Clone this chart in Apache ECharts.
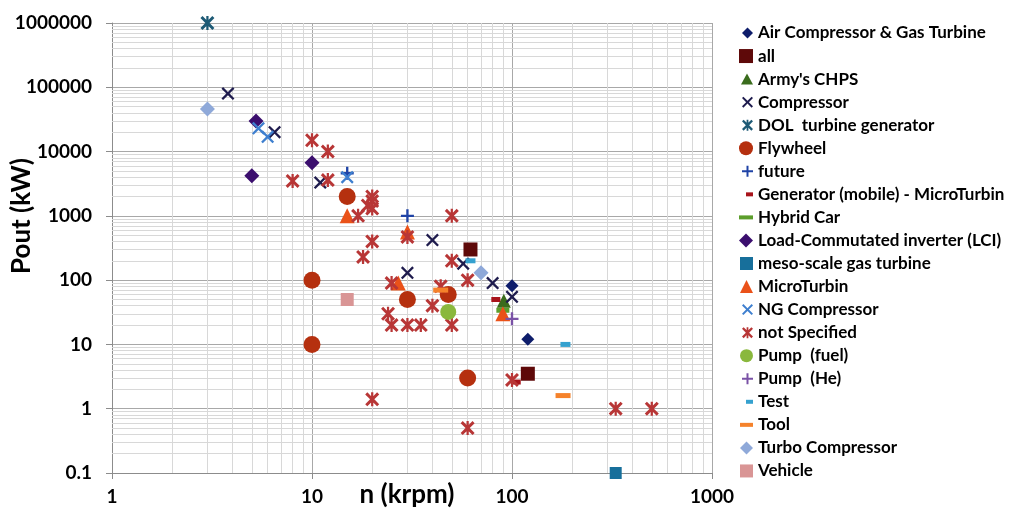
<!DOCTYPE html>
<html>
<head>
<meta charset="utf-8">
<script src="https://cdn.jsdelivr.net/npm/echarts@6/dist/echarts.min.js"></script>
<style>
  html, body { margin: 0; padding: 0; background: #ffffff; }
  #chart { width: 1011px; height: 516px; }
</style>
</head>
<body>
<div id="chart"></div>
<script>
// Rotational speed n (krpm) against output power Pout (kW), one list per application
const airCompressorGasTurbine = [[100, 82], [120, 12]];
const allApps = [[62, 300], [120, 3.5]];
const armysChps = [[91, 48]];
const compressor = [[3.8, 80000], [6.5, 20000], [11, 3300], [30, 130], [40, 420], [57, 180], [80, 90], [100, 55]];
const dolTurbineGenerator = [[3, 1000000]];
const flywheel = [[15, 2000], [10, 100], [10, 10], [30, 50], [48, 60], [60, 3]];
const future = [[15, 4600], [30, 1000]];
const generatorMobile = [[83, 50], [105, 2.6]];
const hybridCar = [[90, 34]];
const lci = [[5.25, 30000], [5, 4200], [10, 6700]];
const mesoScaleGasTurbine = [[330, 0.1]];
const microTurbin = [[15, 1000], [30, 560], [27, 90], [90, 30]];
const ngCompressor = [[5.4, 23000], [6, 17000], [15, 4000]];
const notSpecified = [
  [10, 15000], [8, 3500], [12, 10000], [12, 3600], [20, 2000], [20, 1700], [19, 1450], [20, 1300],
  [17, 1000], [20, 400], [18, 230], [30, 470], [50, 1000], [50, 200], [60, 100], [25, 90],
  [24, 30], [25, 20], [30, 20], [35, 20], [50, 20], [40, 40], [44, 80], [20, 1.4],
  [60, 0.5], [100, 2.8], [330, 1], [500, 1]
];
const pumpFuel = [[48, 32]];
const pumpHe = [[100, 25]];
const testRig = [[62, 200], [185, 10]];
const tool = [[44, 70], [180, 1.6]];
const turboCompressor = [[3, 46000], [70, 130]];
const vehicle = [[15, 50]];

const xTickValues = [1, 10, 100, 1000];
const yTickValues = [0.1, 1, 10, 100, 1000, 10000, 100000, 1000000];

// marker shapes
const X_PATH = 'path://M0,2.5L2.5,0L10,7.5L17.5,0L20,2.5L12.5,10L20,17.5L17.5,20L10,12.5L2.5,20L0,17.5L7.5,10Z';
const STAR_PATH = 'path://M0,3L3,0L10,7L17,0L20,3L13,10L20,17L17,20L10,13L3,20L0,17L7,10Z' +
                  'M8.4,0L11.6,0L11.6,20L8.4,20Z';
const PLUS_PATH = 'path://M8.2,0L11.8,0L11.8,8.2L20,8.2L20,11.8L11.8,11.8L11.8,20L8.2,20L8.2,11.8L0,11.8L0,8.2L8.2,8.2Z';

// series: name, values, marker, marker size, colour, legend icon size
const groups = [
  { name: 'Air Compressor & Gas Turbine', data: airCompressorGasTurbine, symbol: 'diamond', size: 13, color: '#0e1d6b', lw: 11, lh: 11 },
  { name: 'all', data: allApps, symbol: 'rect', size: 14, color: '#5e0909', lw: 14, lh: 14 },
  { name: "Army's CHPS", data: armysChps, symbol: 'triangle', size: 14, color: '#3a6c1d', lw: 12, lh: 11 },
  { name: 'Compressor', data: compressor, symbol: X_PATH, size: 13, color: '#1e1b4d', lw: 11, lh: 11 },
  { name: 'DOL  turbine generator', data: dolTurbineGenerator, symbol: STAR_PATH, size: 14, color: '#1d5a75', lw: 11, lh: 11 },
  { name: 'Flywheel', data: flywheel, symbol: 'circle', size: 17, color: '#b5300f', lw: 14, lh: 14 },
  { name: 'future', data: future, symbol: PLUS_PATH, size: 13, color: '#1f43a6', lw: 11, lh: 11 },
  { name: 'Generator (mobile) - MicroTurbin', data: generatorMobile, symbol: 'rect', size: [9, 5], color: '#a8141b', lw: 7, lh: 4 },
  { name: 'Hybrid Car', data: hybridCar, symbol: 'rect', size: [13, 5], color: '#5c9e2c', lw: 14, lh: 4 },
  { name: 'Load-Commutated inverter (LCI)', data: lci, symbol: 'diamond', size: 15, color: '#3b0e6e', lw: 14, lh: 14 },
  { name: 'meso-scale gas turbine', data: mesoScaleGasTurbine, symbol: 'rect', size: 12, color: '#176f9b', lw: 13, lh: 13 },
  { name: 'MicroTurbin', data: microTurbin, symbol: 'triangle', size: 15, color: '#ea5219', lw: 13, lh: 13 },
  { name: 'NG Compressor', data: ngCompressor, symbol: X_PATH, size: 13, color: '#3e7fcf', lw: 11, lh: 11 },
  { name: 'not Specified', data: notSpecified, symbol: STAR_PATH, size: 14, color: '#b83636', lw: 11, lh: 11 },
  { name: 'Pump  (fuel)', data: pumpFuel, symbol: 'circle', size: 16, color: '#8ab83d', lw: 13, lh: 13 },
  { name: 'Pump  (He)', data: pumpHe, symbol: PLUS_PATH, size: 13, color: '#7a52a6', lw: 11, lh: 11 },
  { name: 'Test', data: testRig, symbol: 'rect', size: [10, 5], color: '#35a1cf', lw: 7, lh: 4 },
  { name: 'Tool', data: tool, symbol: 'rect', size: [15, 5], color: '#f5822b', lw: 13, lh: 4 },
  { name: 'Turbo Compressor', data: turboCompressor, symbol: 'diamond', size: 15, color: '#8fa9d9', lw: 13, lh: 13 },
  { name: 'Vehicle', data: vehicle, symbol: 'rect', size: 13, color: '#d99595', lw: 13, lh: 13 }
];

// light minor grid lines at 2..9 within each decade
const minorLines = [];
for (let e = 0; e < 3; e++) {
  for (let k = 2; k <= 9; k++) minorLines.push({ xAxis: k * Math.pow(10, e) });
}
for (let e = -1; e < 6; e++) {
  for (let k = 2; k <= 9; k++) minorLines.push({ yAxis: +(k * Math.pow(10, e)).toPrecision(6) });
}

const labelFont = { fontFamily: 'Lato', fontWeight: 'bold', color: '#000000' };
const fmt = v => String(+Number(v).toPrecision(6));

const chart = echarts.init(document.getElementById('chart'), null, { renderer: 'canvas' });

const series = [{
  type: 'scatter',
  name: '__grid',
  data: [],
  silent: true,
  z: 1,
  markLine: {
    silent: true,
    z: 1,
    symbol: 'none',
    animation: false,
    label: { show: false },
    emphasis: { disabled: true },
    lineStyle: { color: '#d8d8d8', width: 1, type: 'solid' },
    data: minorLines
  }
}].concat(groups.map(g => ({
  type: 'scatter',
  name: g.name,
  data: g.data,
  symbol: g.symbol,
  symbolSize: g.size,
  z: 6,
  itemStyle: { color: g.color, opacity: 1, borderWidth: 0 },
  emphasis: { disabled: true }
})));

const legends = groups.map((g, i) => ({
  data: [g.name],
  orient: 'vertical',
  left: 753 - g.lw,
  top: 33 + i * 23.05 - 10,
  padding: 0,
  itemWidth: g.lw,
  itemHeight: g.lh,
  selectedMode: false,
  textStyle: Object.assign({ fontSize: 17, lineHeight: 20 }, labelFont)
}));

chart.setOption({
  animation: false,
  backgroundColor: '#ffffff',
  grid: { left: 112, top: 23, width: 600, height: 450, containLabel: false, outerBoundsMode: 'none' },
  xAxis: {
    type: 'log',
    logBase: 10,
    min: xTickValues[0],
    max: xTickValues[xTickValues.length - 1],
    name: 'n (krpm)',
    nameLocation: 'middle',
    nameGap: 9,
    nameMoveOverlap: false,
    nameTextStyle: Object.assign({ fontSize: 26, verticalAlign: 'top', padding: [0, 10, 0, 0] }, labelFont),
    axisLine: { show: true, lineStyle: { color: '#8c8c8c', width: 1 } },
    axisTick: { show: true, length: 6, lineStyle: { color: '#8c8c8c' } },
    axisLabel: Object.assign({ fontSize: 19, margin: 14, formatter: fmt }, labelFont),
    splitLine: { show: true, lineStyle: { color: '#a8a8a8', width: 1 } },
    minorTick: { show: false },
    minorSplitLine: { show: false }
  },
  yAxis: {
    type: 'log',
    logBase: 10,
    min: yTickValues[0],
    max: yTickValues[yTickValues.length - 1],
    name: 'Pout (kW)',
    nameLocation: 'middle',
    nameGap: 77,
    nameMoveOverlap: false,
    nameTextStyle: Object.assign({ fontSize: 26, padding: [0, 0, 0, 64] }, labelFont),
    axisLine: { show: true, lineStyle: { color: '#8c8c8c', width: 1 } },
    axisTick: { show: true, length: 6, lineStyle: { color: '#8c8c8c' } },
    axisLabel: Object.assign({ fontSize: 19, margin: 20, formatter: fmt }, labelFont),
    splitLine: { show: true, lineStyle: { color: '#a8a8a8', width: 1 } },
    minorTick: { show: false },
    minorSplitLine: { show: false }
  },
  legend: legends,
  series: series
});
</script>
</body>
</html>
